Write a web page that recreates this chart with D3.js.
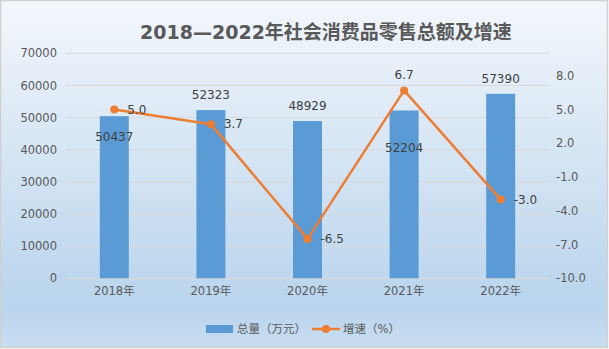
<!DOCTYPE html>
<html>
<head>
<meta charset="utf-8">
<script src="https://cdn.jsdelivr.net/npm/d3@7/dist/d3.min.js"></script>
<style>
  html, body { margin: 0; padding: 0; background: #fff; }
  svg { display: block; }
  text { font-family: "DejaVu Sans", "Noto Sans CJK SC", sans-serif; }
</style>
</head>
<body>
<svg id="chart" width="609" height="349"></svg>
<script>
// Retail sales totals (10k yuan) and growth rate (%), 2018–2022
const years = ["2018年", "2019年", "2020年", "2021年", "2022年"];
const totals = [50437, 52323, 48929, 52204, 57390];
const growth = [5.0, 3.7, -6.5, 6.7, -3.0];
const leftTicks = [0, 10000, 20000, 30000, 40000, 50000, 60000, 70000];
const rightTicks = [-10, -7, -4, -1, 2, 5, 8];

const W = 609, H = 349;
const svg = d3.select("#chart");

// one decimal, plain hyphen for negatives
const fmt1 = d => d3.format(".1f")(d).replace("\u2212", "-");

// background panel with vertical gradient
const defs = svg.append("defs");
const grad = defs.append("linearGradient").attr("id", "bg")
  .attr("x1", 0).attr("y1", 0).attr("x2", 0).attr("y2", 1);
grad.append("stop").attr("offset", "0%").attr("stop-color", "#f3f7fc");
grad.append("stop").attr("offset", "50%").attr("stop-color", "#d2e3f3");
grad.append("stop").attr("offset", "88%").attr("stop-color", "#b9d4ed");
grad.append("stop").attr("offset", "100%").attr("stop-color", "#c9ddf1");

svg.append("rect").attr("x", 0.5).attr("y", 0.5)
  .attr("width", W - 2).attr("height", H - 2)
  .attr("fill", "url(#bg)").attr("stroke", "#d0d0d0").attr("stroke-width", 1.5);

const plot = { left: 66, right: 549, top: 53.3, bottom: 278.3 };

const x = d3.scaleBand().domain(years).range([plot.left, plot.right]).paddingInner(0.7).paddingOuter(0.35);
const yL = d3.scaleLinear().domain([0, 70000]).range([plot.bottom, plot.top]);
const yR = d3.scaleLinear().domain([-10, 10]).range([plot.bottom, plot.top]);
const cx = d => x(d) + x.bandwidth() / 2;

const textColor = "#595959";
const labelColor = "#404040";

// gridlines
svg.append("g").selectAll("line").data(leftTicks).join("line")
  .attr("x1", plot.left).attr("x2", plot.right)
  .attr("y1", d => yL(d)).attr("y2", d => yL(d))
  .attr("stroke", "#d9d9d9").attr("stroke-width", 1);

// left axis
const axL = svg.append("g").attr("transform", `translate(${plot.left},0)`)
  .call(d3.axisLeft(yL).tickValues(leftTicks).tickSize(0).tickPadding(9).tickFormat(d3.format("d")));
axL.select(".domain").remove();
axL.selectAll("text").attr("fill", textColor).style("font-size", "11.5px")
  .style("font-family", "'DejaVu Sans', sans-serif");

// right axis
const axR = svg.append("g").attr("transform", `translate(${plot.right},0)`)
  .call(d3.axisRight(yR).tickValues(rightTicks).tickSize(0).tickPadding(7).tickFormat(fmt1));
axR.select(".domain").remove();
axR.selectAll("text").attr("fill", textColor).style("font-size", "11.5px")
  .style("font-family", "'DejaVu Sans', sans-serif");

// bottom axis
const axB = svg.append("g").attr("transform", `translate(0,${plot.bottom})`)
  .call(d3.axisBottom(x).tickSize(0).tickPadding(9));
axB.select(".domain").attr("stroke", "#d9d9d9");
axB.selectAll("text").attr("fill", textColor).style("font-size", "11.5px");

// bars
svg.append("g").selectAll("rect").data(totals).join("rect")
  .attr("x", (d, i) => x(years[i]))
  .attr("width", x.bandwidth())
  .attr("y", d => yL(d))
  .attr("height", d => yL(0) - yL(d))
  .attr("fill", "#5b9bd5");

// bar value labels (some sit inside the bar to stay clear of the line)
const barLabelDy = [21, -15, -15, 37, -15];
svg.append("g").selectAll("text").data(totals).join("text")
  .attr("x", (d, i) => cx(years[i]))
  .attr("y", (d, i) => yL(d) + barLabelDy[i])
  .attr("dy", "0.35em")
  .attr("text-anchor", "middle")
  .attr("fill", labelColor).style("font-size", "12px")
  .text(d => d);

// growth line
const line = d3.line().x((d, i) => cx(years[i])).y(d => yR(d));
svg.append("path").datum(growth)
  .attr("d", line).attr("fill", "none")
  .attr("stroke", "#ed7d31").attr("stroke-width", 2.5).attr("stroke-linejoin", "round");
svg.append("g").selectAll("circle").data(growth).join("circle")
  .attr("cx", (d, i) => cx(years[i])).attr("cy", d => yR(d)).attr("r", 4)
  .attr("fill", "#ed7d31");

// growth labels: to the right, except the peak which sits above
svg.append("g").selectAll("text").data(growth).join("text")
  .attr("x", (d, i) => i === 3 ? cx(years[i]) : cx(years[i]) + 13)
  .attr("y", (d, i) => i === 3 ? yR(d) - 16 : yR(d))
  .attr("dy", "0.35em")
  .attr("text-anchor", (d, i) => i === 3 ? "middle" : "start")
  .attr("fill", labelColor).style("font-size", "12px")
  .text(d => fmt1(d));

// title
svg.append("text").attr("x", 326).attr("y", 39)
  .attr("text-anchor", "middle").attr("fill", textColor)
  .style("font-size", "19px").style("font-weight", "bold")
  .text("2018—2022年社会消费品零售总额及增速");

// legend
const lg = svg.append("g");
lg.append("rect").attr("x", 206).attr("y", 325).attr("width", 27).attr("height", 8).attr("fill", "#5b9bd5");
lg.append("text").attr("x", 237).attr("y", 329).attr("dy", "0.35em")
  .attr("fill", textColor).style("font-size", "11.5px").text("总量（万元）");
lg.append("line").attr("x1", 312).attr("x2", 340).attr("y1", 329).attr("y2", 329)
  .attr("stroke", "#ed7d31").attr("stroke-width", 2.5);
lg.append("circle").attr("cx", 326).attr("cy", 329).attr("r", 4).attr("fill", "#ed7d31");
lg.append("text").attr("x", 343).attr("y", 329).attr("dy", "0.35em")
  .attr("fill", textColor).style("font-size", "11.5px").text("增速（%）");
</script>
</body>
</html>
